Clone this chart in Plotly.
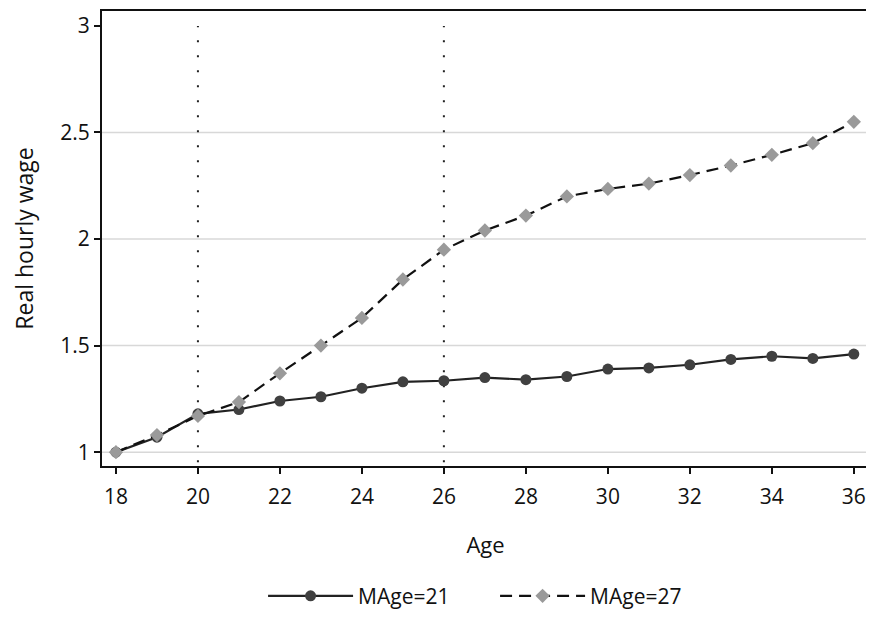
import plotly.graph_objects as go

ages = list(range(18, 37))
mage21 = [1.00, 1.07, 1.18, 1.20, 1.24, 1.26, 1.30, 1.33, 1.335, 1.35, 1.34, 1.355,
          1.39, 1.395, 1.41, 1.435, 1.45, 1.44, 1.46]
mage27 = [1.00, 1.08, 1.17, 1.235, 1.37, 1.50, 1.63, 1.81, 1.95, 2.04, 2.11, 2.20,
          2.235, 2.26, 2.30, 2.345, 2.395, 2.45, 2.55]
x_ticks = [18, 20, 22, 24, 26, 28, 30, 32, 34, 36]
y_ticks = [1, 1.5, 2, 2.5, 3]
y_tick_labels = ["1", "1.5", "2", "2.5", "3"]
grid_levels = [1, 1.5, 2, 2.5]
marker_ages = [20, 26]

FONT = "Open Sans"

fig = go.Figure()
fig.add_trace(go.Scatter(
    x=ages, y=mage21, name="MAge=21", mode="lines+markers",
    line=dict(color="#222222", width=2.2, dash="solid"),
    marker=dict(symbol="circle", size=11, color="#404040"),
))
fig.add_trace(go.Scatter(
    x=ages, y=mage27, name="MAge=27", mode="lines+markers",
    line=dict(color="#111111", width=2.2, dash="12px,7px"),
    marker=dict(symbol="diamond", size=11, color="#9a9a9a"),
))

shapes = []
for g in grid_levels:
    shapes.append(dict(type="line", xref="paper", yref="y", x0=0, x1=1, y0=g, y1=g,
                       line=dict(color="#d8d8d8", width=1.5), layer="below"))
for a in marker_ages:
    shapes.append(dict(type="line", xref="x", yref="y", x0=a, x1=a, y0=0.953, y1=3.0,
                       line=dict(color="#222222", width=2, dash="2px,13px"), layer="below"))

fig.update_layout(
    width=866, height=609,
    paper_bgcolor="white", plot_bgcolor="white",
    margin=dict(l=94, r=5, t=1, b=150),
    font=dict(family=FONT, size=21, color="#111111"),
    shapes=shapes,
    showlegend=True,
    legend=dict(orientation="h", x=0.21, xanchor="left", y=-0.286, yanchor="middle",
                font=dict(size=21), itemwidth=85, entrywidth=132, traceorder="normal",
                bgcolor="rgba(0,0,0,0)"),
    xaxis=dict(
        range=[17.66, 36.37], tickvals=x_ticks, ticks="outside", ticklen=6,
        tickwidth=1.5, tickcolor="#111", showgrid=False, zeroline=False,
        showline=True, linecolor="#111", linewidth=2, mirror=True,
        ticklabelstandoff=5,
        title=dict(text="Age", font=dict(size=22), standoff=28),
        tickfont=dict(size=21),
    ),
    yaxis=dict(
        range=[0.935, 3.07], tickvals=y_ticks, ticktext=y_tick_labels,
        ticks="outside", ticklen=6, tickwidth=1.5, tickcolor="#111",
        showgrid=False, zeroline=False,
        showline=True, linecolor="#111", linewidth=2, mirror=True,
        title=dict(text="Real hourly wage", font=dict(size=23), standoff=26),
        tickfont=dict(size=21),
    ),
)

fig.write_html("out.html")
